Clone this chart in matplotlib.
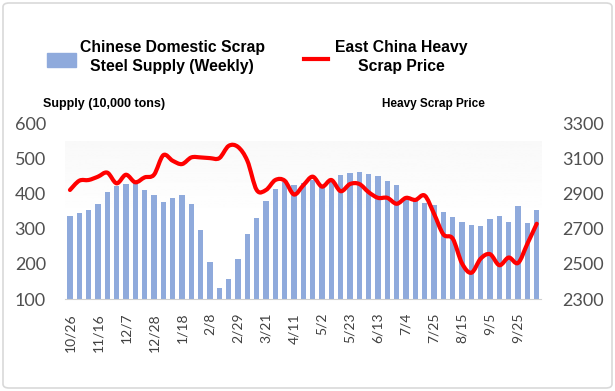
import matplotlib.pyplot as plt
import numpy as np
from matplotlib.path import Path
from matplotlib.patches import PathPatch, Rectangle, FancyBboxPatch
from matplotlib.lines import Line2D

# weekly data, 10/26 .. mid October
supply = [337, 346, 355, 372, 405, 423, 428, 432, 411, 396,
          378, 389, 396, 372, 297, 206, 132, 156, 214, 287,
          331, 381, 414, 435, 425, 432, 440, 423, 442, 453,
          461, 464, 456, 450, 437, 427, 392, 385, 374, 368,
          349, 333, 320, 312, 309, 329, 336, 320, 365, 317, 354]
price = [2923, 2976, 2980, 2999, 3022, 2961, 3010, 2967, 2995, 3010,
         3122, 3090, 3071, 3109, 3109, 3105, 3105, 3175, 3169, 3090,
         2923, 2923, 2980, 2976, 2897, 2950, 2999, 2942, 2980, 2916,
         2957, 2957, 2910, 2878, 2878, 2844, 2878, 2866, 2891, 2787,
         2669, 2645, 2503, 2450, 2531, 2556, 2493, 2537, 2506, 2616, 2730]
tick_labels = ["10/26", "11/16", "12/7", "12/28", "1/18", "2/8", "2/29", "3/21", "4/11",
               "5/2", "5/23", "6/13", "7/4", "7/25", "8/15", "9/5", "9/25"]

bar_color = "#8FAADC"
W, H = 615, 391

fig = plt.figure(figsize=(6.15, 3.91), dpi=100)
ax = fig.add_axes([65.3 / W, 1 - 299 / H, (541.4 - 65.3) / W, 175 / H])
x = np.arange(len(supply))

# very faint gradient behind the plot area
grad = np.linspace(0.975, 1.0, 100).reshape(-1, 1)
ax.imshow(grad, cmap="gray", vmin=0, vmax=1, aspect="auto",
          extent=(0, 1, 0.45, 0.897), transform=ax.transAxes, zorder=0)

ax.bar(x, supply, width=0.55, color=bar_color, zorder=2)
ax.set_xlim(-0.5, len(supply) - 0.5)
ax.set_ylim(100, 600)
ax.set_yticks(range(100, 601, 100))
ax.set_xticks(x[::3])
ax.set_xticklabels(tick_labels, rotation=90, fontsize=10, color="#404040", family="Lato")
for s in ["top", "left", "right"]:
    ax.spines[s].set_visible(False)
ax.spines["bottom"].set_color("#D0D0D0")
ax.tick_params(axis="x", length=0, pad=10)
ax.tick_params(axis="y", length=0, pad=14, labelsize=13, labelcolor="#505050")
for t in ax.get_yticklabels():
    t.set_family("Lato")

ax2 = ax.twinx()
ax2.set_ylim(2300, 3300)
ax2.set_yticks(range(2300, 3301, 200))
for s in ax2.spines.values():
    s.set_visible(False)
ax2.tick_params(axis="y", length=0, pad=15, labelsize=13, labelcolor="#505050")
for t in ax2.get_yticklabels():
    t.set_family("Lato")

# smooth line (Catmull-Rom through the weekly points)
px = list(x)
py = price
verts = [(px[0], py[0])]
codes = [Path.MOVETO]
n = len(px)
for i in range(n - 1):
    i0, i3 = max(i - 1, 0), min(i + 2, n - 1)
    c1 = (px[i] + (px[i + 1] - px[i0]) / 6, py[i] + (py[i + 1] - py[i0]) / 6)
    c2 = (px[i + 1] - (px[i3] - px[i]) / 6, py[i + 1] - (py[i3] - py[i]) / 6)
    verts += [c1, c2, (px[i + 1], py[i + 1])]
    codes += [Path.CURVE4] * 3
ax2.add_patch(PathPatch(Path(verts, codes), fill=False, edgecolor="#FF0000",
                        lw=3, capstyle="round", joinstyle="round", zorder=3))

# legend
fig.add_artist(Rectangle((47 / W, 1 - 67 / H), 29 / W, 14 / H, color=bar_color,
                         transform=fig.transFigure))
fig.add_artist(Line2D([304 / W, 328 / W], [1 - 59 / H, 1 - 59 / H], color="#FF0000",
                      lw=3, transform=fig.transFigure))
fig.text(172 / W, 1 - 57 / H, "Chinese Domestic Scrap\nSteel Supply (Weekly)", ha="center",
         va="center", fontsize=11.3, fontweight="bold", family="Liberation Sans", linespacing=1.35)
fig.text(401 / W, 1 - 57 / H, "East China Heavy\nScrap Price", ha="center",
         va="center", fontsize=11.3, fontweight="bold", family="Liberation Sans", linespacing=1.35)

fig.text(43 / W, 1 - 104 / H, "Supply (10,000 tons)", ha="left", va="center",
         fontsize=9, fontweight="bold", family="Liberation Sans")
fig.text(485 / W, 1 - 104 / H, "Heavy Scrap Price", ha="right", va="center",
         fontsize=8.5, fontweight="bold", family="Liberation Sans")

fig.add_artist(FancyBboxPatch((3 / W, 3 / H), 1 - 6 / W, 1 - 6 / H,
                              boxstyle="round,pad=0,rounding_size=0.01", fill=False,
                              edgecolor="#D9D9D9", lw=1.2, transform=fig.transFigure))

fig.savefig("out.png", dpi=100)
